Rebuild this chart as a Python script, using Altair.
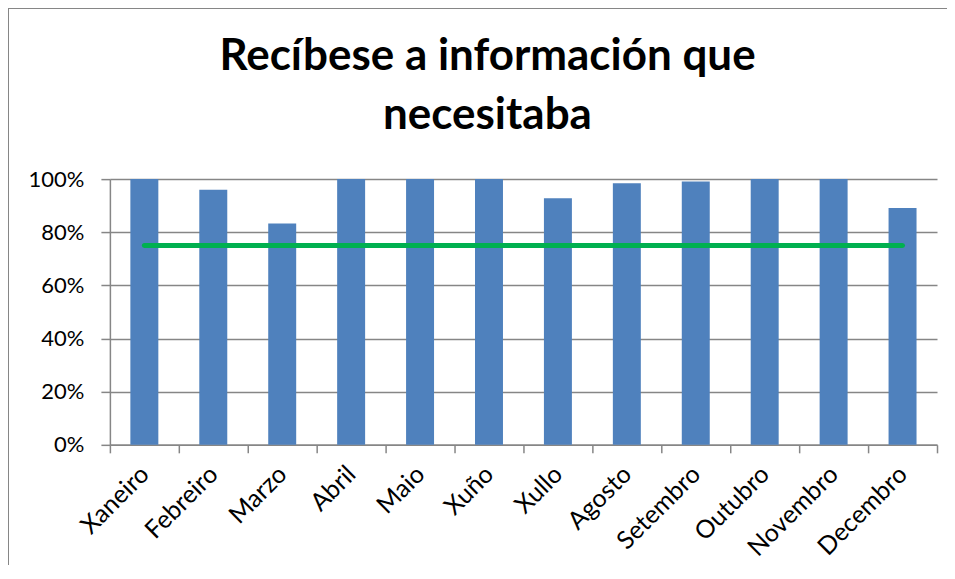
import altair as alt
import pandas as pd

months = ["Xaneiro", "Febreiro", "Marzo", "Abril", "Maio", "Xuño", "Xullo",
          "Agosto", "Setembro", "Outubro", "Novembro", "Decembro"]
values = [1.00, 0.96, 0.833, 1.00, 1.00, 1.00, 0.928, 0.984, 0.991, 1.00, 1.00, 0.891]
target = [0.75] * 12

df = pd.DataFrame({"mes": months, "valor": values, "obxectivo": target})

FONT = "Lato"
GRAY = "#868686"

x_enc = alt.X("mes:N", sort=months, title=None,
              scale=alt.Scale(paddingInner=0, paddingOuter=0),
              axis=alt.Axis(labelAngle=-45, labelAlign="right", labelBaseline="middle",
                            labelPadding=17, tickBand="extent", tickSize=8,
                            labelFontSize=25, labelFont=FONT, labelColor="black",
                            domainColor=GRAY, tickColor=GRAY, domainWidth=1.5, tickWidth=1.5,
                            grid=False))
y_scale = alt.Scale(domain=[0, 1])
y_axis = alt.Axis(format="%", values=[0, 0.2, 0.4, 0.6, 0.8, 1.0], tickSize=9,
                  labelPadding=17, labelFontSize=22, labelFont=FONT, labelColor="black",
                  domainColor=GRAY, tickColor=GRAY, gridColor=GRAY, domainWidth=1.5,
                  tickWidth=1.5, gridWidth=1.5, grid=True)

bars = alt.Chart(df).mark_bar(size=28, color="#4F81BD").encode(
    x=x_enc,
    y=alt.Y("valor:Q", scale=y_scale, axis=y_axis, title=None),
)

line = alt.Chart(df).mark_line(color="#00B050", strokeWidth=5, strokeCap="round").encode(
    x=alt.X("mes:N", sort=months),
    y=alt.Y("obxectivo:Q", scale=y_scale),
)

frame = alt.Chart(df).mark_rect(fill=None, stroke=GRAY, strokeWidth=1.5).encode(
    x=alt.value(-102), y=alt.value(-171), x2=alt.value(3000), y2=alt.value(3000)
)

chart = alt.layer(frame, bars, line).properties(
    width=828, height=266,
    title=alt.TitleParams(
        text=["Recíbese a información que", "necesitaba"],
        font=FONT, fontSize=44, fontWeight="bold", color="black",
        anchor="middle", frame="group", dx=-36, lineHeight=59,
        baseline="alphabetic", offset=-166,
    ),
    autosize=alt.AutoSizeParams(type="none"),
    padding={"left": 102, "top": 171, "right": 10, "bottom": 120},
).configure_view(stroke=None)

chart.save("out.html", embed_options={"renderer": "svg", "actions": False})
